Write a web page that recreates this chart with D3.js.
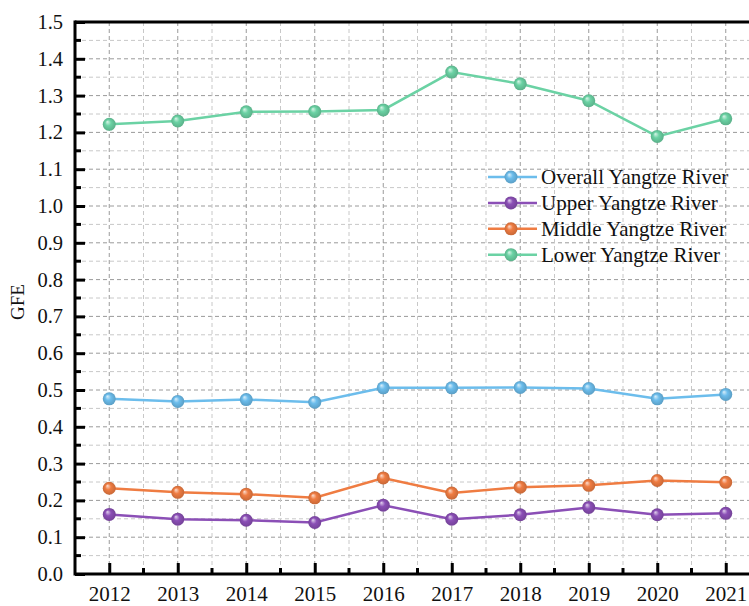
<!DOCTYPE html>
<html>
<head>
<meta charset="utf-8">
<script src="https://cdn.jsdelivr.net/npm/d3@7"></script>
<style>
  html, body { margin: 0; padding: 0; background: #fff; }
  svg { display: block; }
</style>
</head>
<body>
<svg id="chart" width="749" height="606"></svg>
<script>
// GFE of the Yangtze River Economic Belt, 2012–2021
const years = [2012, 2013, 2014, 2015, 2016, 2017, 2018, 2019, 2020, 2021];
const seriesNames = ["Overall Yangtze River", "Upper Yangtze River", "Middle Yangtze River", "Lower Yangtze River"];
const overall = [0.476, 0.469, 0.474, 0.467, 0.506, 0.506, 0.507, 0.504, 0.476, 0.488];
const upper   = [0.162, 0.149, 0.146, 0.140, 0.187, 0.149, 0.161, 0.181, 0.161, 0.165];
const middle  = [0.233, 0.222, 0.217, 0.207, 0.261, 0.220, 0.236, 0.241, 0.254, 0.249];
const lower   = [1.222, 1.231, 1.256, 1.257, 1.261, 1.364, 1.332, 1.286, 1.189, 1.237];
const yTicks  = [0, 0.1, 0.2, 0.3, 0.4, 0.5, 0.6, 0.7, 0.8, 0.9, 1.0, 1.1, 1.2, 1.3, 1.4, 1.5];
const colors  = ["#6cbdec", "#8b4fb6", "#ef7c42", "#6bd2a4"];

const series = [overall, upper, middle, lower].map((vals, i) => ({
  name: seriesNames[i], color: colors[i],
  values: vals.map((v, j) => ({ year: years[j], value: v }))
}));

const svg = d3.select("#chart");
const font = "'Liberation Serif', 'Times New Roman', serif";
const plotLeft = 75, plotTop = 22, plotBottom = 574;

const x = d3.scaleLinear().domain([2011.5, 2021.5]).range([plotLeft, plotLeft + 68.5 * 10]);
const y = d3.scaleLinear().domain([0, 1.5]).range([plotBottom, plotTop]);
const plotRight = x.range()[1];

// gradients for the sphere-like markers
const defs = svg.append("defs");
series.forEach((s, i) => {
  const g = defs.append("radialGradient").attr("id", "ball" + i)
    .attr("cx", "0.5").attr("cy", "0.5").attr("r", "0.5")
    .attr("fx", "0.35").attr("fy", "0.3");
  const c = d3.color(s.color);
  g.append("stop").attr("offset", "0%").attr("stop-color", d3.interpolateRgb(c, "#fff")(0.75));
  g.append("stop").attr("offset", "45%").attr("stop-color", c.formatHex());
  g.append("stop").attr("offset", "100%").attr("stop-color", c.darker(0.5).formatHex());
});

// grid: minor and major lines, dashed
const grid = svg.append("g");
const yMinor = d3.range(0.05, 1.5, 0.1);
grid.selectAll(".hmin").data(yMinor).join("line")
  .attr("x1", plotLeft).attr("x2", plotRight).attr("y1", d => y(d)).attr("y2", d => y(d))
  .attr("stroke", "#c8c8c8").attr("stroke-width", 1).attr("stroke-dasharray", "4,3");
grid.selectAll(".hmaj").data(yTicks.filter(d => d > 0 && d < 1.5)).join("line")
  .attr("x1", plotLeft).attr("x2", plotRight).attr("y1", d => y(d)).attr("y2", d => y(d))
  .attr("stroke", "#9a9a9a").attr("stroke-width", 1).attr("stroke-dasharray", "4,3");
const xMinor = years.map(d => d + 0.5).slice(0, -1);
grid.selectAll(".vmin").data(xMinor).join("line")
  .attr("x1", d => x(d)).attr("x2", d => x(d)).attr("y1", plotTop).attr("y2", plotBottom)
  .attr("stroke", "#c8c8c8").attr("stroke-width", 1).attr("stroke-dasharray", "4,3");
grid.selectAll(".vmaj").data(years).join("line")
  .attr("x1", d => x(d)).attr("x2", d => x(d)).attr("y1", plotTop).attr("y2", plotBottom)
  .attr("stroke", "#9a9a9a").attr("stroke-width", 1).attr("stroke-dasharray", "4,3");

// axes with inward ticks
const yAxis = svg.append("g").attr("transform", `translate(${plotLeft},0)`)
  .call(d3.axisLeft(y).tickValues(yTicks).tickFormat(d3.format(".1f")).tickSizeInner(-10).tickSizeOuter(0).tickPadding(12));
yAxis.select(".domain").remove();
yAxis.selectAll(".tick line").attr("stroke", "#000").attr("stroke-width", 3);
yAxis.selectAll("text").attr("font-family", font).attr("font-size", 20.5).attr("fill", "#111");
yAxis.append("g").selectAll("line").data(yMinor).join("line")
  .attr("x1", 0).attr("x2", 6).attr("y1", d => y(d)).attr("y2", d => y(d))
  .attr("stroke", "#000").attr("stroke-width", 3);

const xAxis = svg.append("g").attr("transform", `translate(0,${plotBottom})`)
  .call(d3.axisBottom(x).tickValues(years).tickFormat(d3.format("d")).tickSizeInner(-11).tickSizeOuter(0).tickPadding(12));
xAxis.select(".domain").remove();
xAxis.selectAll(".tick line").attr("stroke", "#000").attr("stroke-width", 3);
xAxis.selectAll("text").attr("font-family", font).attr("font-size", 21).attr("fill", "#111");
xAxis.append("g").selectAll("line").data(xMinor).join("line")
  .attr("x1", d => x(d)).attr("x2", d => x(d)).attr("y1", 0).attr("y2", -6)
  .attr("stroke", "#000").attr("stroke-width", 3);

// frame
svg.append("line").attr("x1", plotLeft).attr("x2", plotLeft).attr("y1", plotTop - 1.5).attr("y2", plotBottom + 1.5)
  .attr("stroke", "#000").attr("stroke-width", 3);
svg.append("line").attr("x1", plotLeft).attr("x2", plotRight).attr("y1", plotBottom).attr("y2", plotBottom)
  .attr("stroke", "#000").attr("stroke-width", 3);
svg.append("line").attr("x1", plotLeft).attr("x2", plotRight).attr("y1", plotTop).attr("y2", plotTop)
  .attr("stroke", "#000").attr("stroke-width", 3);

// axis title
svg.append("text").attr("transform", `translate(24,302) rotate(-90)`)
  .attr("text-anchor", "middle").attr("font-family", font).attr("font-size", 19).attr("fill", "#111")
  .text("GFE");

// lines and markers
const line = d3.line().x(d => x(d.year)).y(d => y(d.value));
const sg = svg.append("g").selectAll("g").data(series).join("g");
sg.append("path").attr("d", d => line(d.values)).attr("fill", "none")
  .attr("stroke", d => d.color).attr("stroke-width", 2.5);
sg.each(function (s, i) {
  d3.select(this).selectAll("circle").data(s.values).join("circle")
    .attr("cx", d => x(d.year)).attr("cy", d => y(d.value)).attr("r", 6.5)
    .attr("fill", `url(#ball${i})`);
});

// legend
const lg = svg.append("g").attr("transform", "translate(488,177)");
const items = lg.selectAll("g").data(series).join("g").attr("transform", (d, i) => `translate(0,${i * 25.9})`);
items.append("line").attr("x1", 0).attr("x2", 49).attr("stroke", d => d.color).attr("stroke-width", 2.5);
items.append("circle").attr("cx", 23).attr("r", 6.5).attr("fill", (d, i) => `url(#ball${i})`);
items.append("text").attr("x", 53).attr("dy", "0.35em").attr("font-family", font).attr("font-size", 21)
  .attr("fill", "#111").text(d => d.name);
</script>
</body>
</html>
